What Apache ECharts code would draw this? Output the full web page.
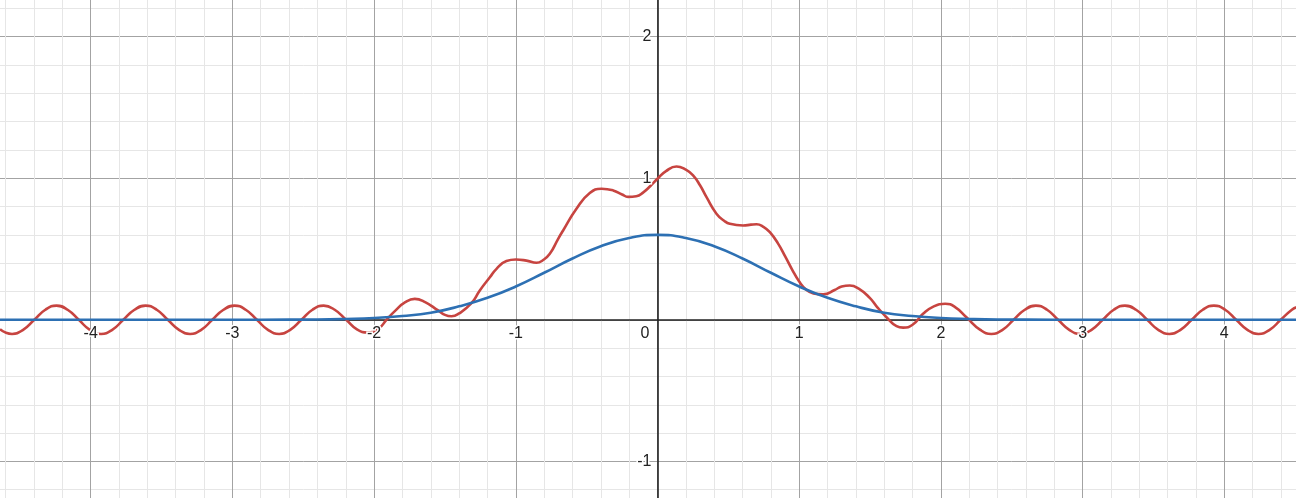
<!DOCTYPE html>
<html>
<head>
<meta charset="utf-8">
<script src="https://cdn.jsdelivr.net/npm/echarts@6/dist/echarts.min.js"></script>
<style>
html,body{margin:0;padding:0;background:#fff;overflow:hidden;width:1296px;height:498px;}
#wrap{position:absolute;left:0;top:0;width:1296px;height:498px;overflow:hidden;}
#chart{position:absolute;left:-51px;top:-105px;width:1417px;height:708px;}
</style>
</head>
<body>
<div id="wrap"><div id="chart"></div></div>
<script>
// Red curve: points
const redX = [-4.64,-4.555,-4.477,-4.398,-4.32,-4.241,-4.163,-4.084,-4.006,-3.927,-3.848,-3.77,-3.691,-3.613,-3.534,-3.456,-3.377,-3.299,-3.22,-3.142,-3.063,-2.985,-2.906,-2.827,-2.749,-2.67,-2.592,-2.513,-2.435,-2.356,-2.278,-2.199,-2.121,-2.045,-1.964,-1.913,-1.85,-1.78,-1.713,-1.64,-1.548,-1.5,-1.454,-1.4,-1.313,-1.254,-1.183,-1.136,-1.066,-1.0,-0.925,-0.854,-0.807,-0.76,-0.701,-0.666,-0.572,-0.478,-0.395,-0.313,-0.25,-0.207,-0.15,-0.1,-0.05,0,0.06,0.134,0.2,0.251,0.3,0.346,0.416,0.47,0.51,0.604,0.66,0.699,0.75,0.793,0.85,0.9,0.95,1.0,1.05,1.1,1.169,1.25,1.3,1.357,1.42,1.498,1.55,1.616,1.687,1.733,1.8,1.874,1.95,2.03,2.1,2.18,2.278,2.356,2.435,2.513,2.592,2.67,2.749,2.827,2.906,2.985,3.063,3.142,3.22,3.299,3.377,3.456,3.534,3.613,3.691,3.77,3.848,3.927,4.006,4.084,4.163,4.241,4.32,4.398,4.477,4.51];
const redY = [-0.067,-0.1,-0.071,0,0.071,0.1,0.071,0,-0.071,-0.1,-0.071,0,0.071,0.1,0.071,0,-0.071,-0.1,-0.071,0,0.071,0.1,0.071,0,-0.071,-0.1,-0.071,0,0.071,0.1,0.071,0.002,-0.068,-0.09,-0.058,0,0.065,0.125,0.148,0.125,0.066,0.035,0.025,0.045,0.117,0.207,0.3,0.36,0.415,0.426,0.418,0.403,0.422,0.466,0.572,0.631,0.784,0.895,0.926,0.914,0.885,0.868,0.872,0.9,0.945,0.996,1.05,1.083,1.06,1.02,0.95,0.866,0.749,0.7,0.678,0.666,0.672,0.675,0.655,0.619,0.54,0.45,0.355,0.27,0.212,0.186,0.18,0.21,0.235,0.242,0.22,0.155,0.09,0.018,-0.045,-0.055,-0.035,0.042,0.095,0.113,0.09,0.018,-0.071,-0.1,-0.071,0,0.071,0.1,0.071,0,-0.071,-0.1,-0.071,0,0.071,0.1,0.071,0,-0.071,-0.1,-0.071,0,0.071,0.1,0.071,0,-0.071,-0.1,-0.071,0,0.071,0.088];

// Blue curve: points
const blueX = [-4.64,-4.0,-3.0,-2.6,-2.4,-2.2,-2.0,-1.8,-1.6,-1.4,-1.2,-1.0,-0.8,-0.6,-0.4,-0.2,0,0.2,0.4,0.6,0.8,1.0,1.2,1.4,1.6,1.8,2.0,2.2,2.4,2.6,3.0,4.0,4.51];
const blueY = [0,0,0,0.001,0.002,0.006,0.013,0.027,0.05,0.095,0.155,0.235,0.332,0.433,0.52,0.578,0.6,0.578,0.52,0.433,0.332,0.235,0.155,0.095,0.05,0.027,0.013,0.006,0.002,0.001,0,0,0];

// Axis tick labels
const xTickLabels = ['-5','-4','-3','-2','-1','0','1','2','3','4','5'];
const yTickLabels = ['-2','-1','','1','2','3'];

const redData = redX.map((x, i) => [x, redY[i]]);
const blueData = blueX.map((x, i) => [x, blueY[i]]);

const chart = echarts.init(document.getElementById('chart'), null, {renderer: 'canvas'});
const W = 1417, H = 708;
const labelFont = {
  fontFamily: 'Liberation Sans, Arial, sans-serif',
  fontSize: 16,
  color: '#222',
  textBorderColor: '#fff',
  textBorderWidth: 3
};
const xLabel = Object.assign({
  margin: 6,
  hideOverlap: false,
  formatter: function (v) {
    const s = xTickLabels[Math.round(v) + 5];
    return s === '0' ? '{z|0}' : s;
  },
  rich: {z: Object.assign({padding: [0, 25, 0, 0]}, labelFont)}
}, labelFont);
const yLabel = Object.assign({
  margin: 6,
  hideOverlap: false,
  formatter: function (v) { return yTickLabels[Math.round(v) + 2]; }
}, labelFont);

chart.setOption({
  backgroundColor: '#fff',
  animation: false,
  grid: {left: 0, right: 0, top: 0, bottom: 0, containLabel: false, outerBoundsMode: 'none'},
  xAxis: [{
    type: 'value', min: -5, max: 5, interval: 1,
    position: 'bottom',
    offset: -H * 2 / 5,
    z: 0,
    axisLine: {show: true, onZero: false, lineStyle: {color: '#222', width: 1.6}},
    axisTick: {show: false},
    minorTick: {show: false, splitNumber: 5},
    minorSplitLine: {show: true, lineStyle: {color: '#e6e6e6', width: 1}},
    splitLine: {show: true, lineStyle: {color: '#a3a3a3', width: 1}},
    axisLabel: {show: false}
  }, {
    type: 'value', min: -5, max: 5, interval: 1,
    position: 'bottom',
    offset: -H * 2 / 5,
    z: 10,
    axisLine: {show: false, onZero: false},
    axisTick: {show: false},
    splitLine: {show: false},
    axisLabel: xLabel
  }],
  yAxis: [{
    type: 'value', min: -2, max: 3, interval: 1,
    position: 'left',
    offset: -W / 2,
    z: 0,
    axisLine: {show: true, onZero: false, lineStyle: {color: '#222', width: 1.6}},
    axisTick: {show: false},
    minorTick: {show: false, splitNumber: 5},
    minorSplitLine: {show: true, lineStyle: {color: '#e6e6e6', width: 1}},
    splitLine: {show: true, lineStyle: {color: '#a3a3a3', width: 1}},
    axisLabel: {show: false}
  }, {
    type: 'value', min: -2, max: 3, interval: 1,
    position: 'left',
    offset: -W / 2,
    z: 10,
    axisLine: {show: false, onZero: false},
    axisTick: {show: false},
    splitLine: {show: false},
    axisLabel: yLabel
  }],
  series: [
    {
      type: 'line', data: redData, smooth: 0.5, showSymbol: false,
      xAxisIndex: 0, yAxisIndex: 0,
      lineStyle: {color: '#c74440', width: 2.6}, z: 3
    },
    {
      type: 'line', data: blueData, smooth: 0.5, showSymbol: false,
      xAxisIndex: 0, yAxisIndex: 0,
      lineStyle: {color: '#2d70b3', width: 2.6}, z: 4
    }
  ]
});
</script>
</body>
</html>
